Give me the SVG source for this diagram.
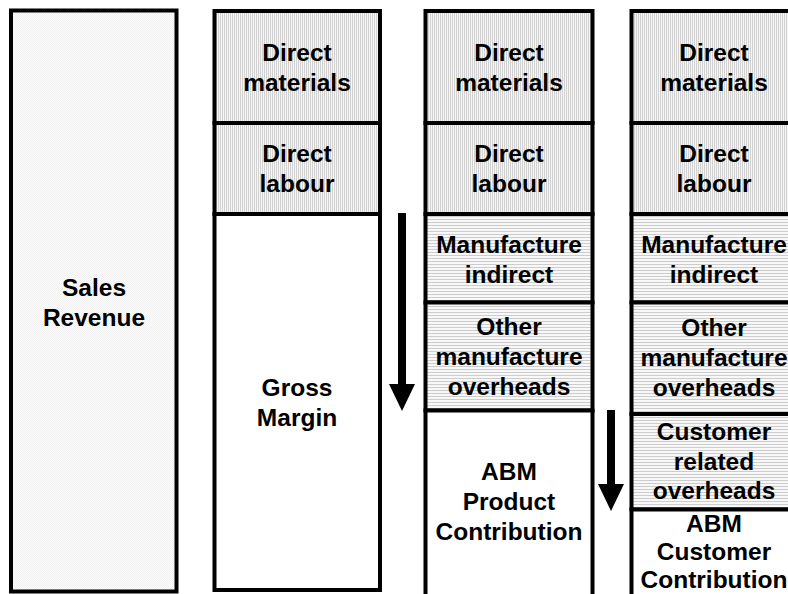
<svg xmlns="http://www.w3.org/2000/svg" width="788" height="594" viewBox="0 0 788 594">
  <defs>
    <pattern id="vstripe" width="2" height="2" patternUnits="userSpaceOnUse">
      <rect width="2" height="2" fill="#f6f6f6"/>
      <rect width="1" height="2" fill="#d2d2d2"/>
    </pattern>
    <pattern id="hstripe" width="3" height="3" patternUnits="userSpaceOnUse">
      <rect width="3" height="3" fill="#f8f8f8"/>
      <rect width="3" height="1" fill="#cccccc"/>
    </pattern>
    <pattern id="dots" width="2" height="2" patternUnits="userSpaceOnUse">
      <rect width="2" height="2" fill="#fdfdfd"/>
      <rect width="1" height="1" fill="#f0f0f0"/>
      <rect x="1" y="1" width="1" height="1" fill="#f0f0f0"/>
    </pattern>
    <marker id="head" markerUnits="userSpaceOnUse" markerWidth="28" markerHeight="26" refX="0" refY="13" orient="auto" viewBox="0 0 28 26">
      <path d="M0,0 L27,13 L0,26 Z" fill="#000"/>
    </marker>
  </defs>
  <style>
    .cell { stroke: #000; stroke-width: 4; }
    .v { fill: url(#vstripe); }
    .h { fill: url(#hstripe); }
    .w { fill: #ffffff; }
    .d { fill: url(#dots); }
    text { font-family: "Liberation Sans", Arial, sans-serif; font-weight: bold; font-size: 24.5px; fill: #000; text-anchor: middle; }
    .arrow { stroke: #000; stroke-width: 8; fill: none; marker-end: url(#head); }
  </style>
  <rect width="788" height="594" fill="#ffffff"/>

  <g id="sales-revenue">
    <rect class="cell d" x="11" y="10.5" width="165.5" height="581"/>
    <text x="94" y="296">Sales</text>
    <text x="94" y="326">Revenue</text>
  </g>

  <g id="col2-direct-materials">
    <rect class="cell v" x="214.5" y="11" width="165.5" height="112"/>
    <text x="297" y="61">Direct</text>
    <text x="297" y="91">materials</text>
  </g>
  <g id="col2-direct-labour">
    <rect class="cell v" x="214.5" y="123" width="165.5" height="91"/>
    <text x="297" y="162">Direct</text>
    <text x="297" y="192">labour</text>
  </g>
  <g id="gross-margin">
    <rect class="cell w" x="214.5" y="214" width="165.5" height="376"/>
    <text x="297" y="396">Gross</text>
    <text x="297" y="426">Margin</text>
  </g>

  <g id="col3-direct-materials">
    <rect class="cell v" x="425.5" y="11" width="167" height="112"/>
    <text x="509" y="61">Direct</text>
    <text x="509" y="91">materials</text>
  </g>
  <g id="col3-direct-labour">
    <rect class="cell v" x="425.5" y="123" width="167" height="91"/>
    <text x="509" y="162">Direct</text>
    <text x="509" y="192">labour</text>
  </g>
  <g id="col3-manufacture-indirect">
    <rect class="cell h" x="425.5" y="214" width="167" height="88.5"/>
    <text x="509" y="253">Manufacture</text>
    <text x="509" y="283">indirect</text>
  </g>
  <g id="col3-other-manufacture-overheads">
    <rect class="cell h" x="425.5" y="302.5" width="167" height="108"/>
    <text x="509" y="335">Other</text>
    <text x="509" y="365">manufacture</text>
    <text x="509" y="395">overheads</text>
  </g>
  <g id="abm-product-contribution">
    <rect class="cell w" x="425.5" y="410.5" width="167" height="195"/>
    <text x="509" y="480">ABM</text>
    <text x="509" y="510">Product</text>
    <text x="509" y="540">Contribution</text>
  </g>

  <g id="col4-direct-materials">
    <rect class="cell v" x="631.5" y="11" width="170" height="112"/>
    <text x="714" y="61">Direct</text>
    <text x="714" y="91">materials</text>
  </g>
  <g id="col4-direct-labour">
    <rect class="cell v" x="631.5" y="123" width="170" height="91"/>
    <text x="714" y="162">Direct</text>
    <text x="714" y="192">labour</text>
  </g>
  <g id="col4-manufacture-indirect">
    <rect class="cell h" x="631.5" y="214" width="170" height="88.5"/>
    <text x="714" y="253">Manufacture</text>
    <text x="714" y="283">indirect</text>
  </g>
  <g id="col4-other-manufacture-overheads">
    <rect class="cell h" x="631.5" y="302.5" width="170" height="111.5"/>
    <text x="714" y="336">Other</text>
    <text x="714" y="366">manufacture</text>
    <text x="714" y="396">overheads</text>
  </g>
  <g id="customer-related-overheads">
    <rect class="cell h" x="631.5" y="414" width="170" height="95.5"/>
    <text x="714" y="440">Customer</text>
    <text x="714" y="470">related</text>
    <text x="714" y="499">overheads</text>
  </g>
  <g id="abm-customer-contribution">
    <rect class="cell w" x="631.5" y="509.5" width="170" height="100"/>
    <text x="714" y="532">ABM</text>
    <text x="714" y="560">Customer</text>
    <text x="714" y="588">Contribution</text>
  </g>

  <g id="connectors">
    <line class="arrow" x1="402" y1="213" x2="402" y2="384"/>
    <line class="arrow" x1="611" y1="410" x2="611" y2="484"/>
  </g>
</svg>
